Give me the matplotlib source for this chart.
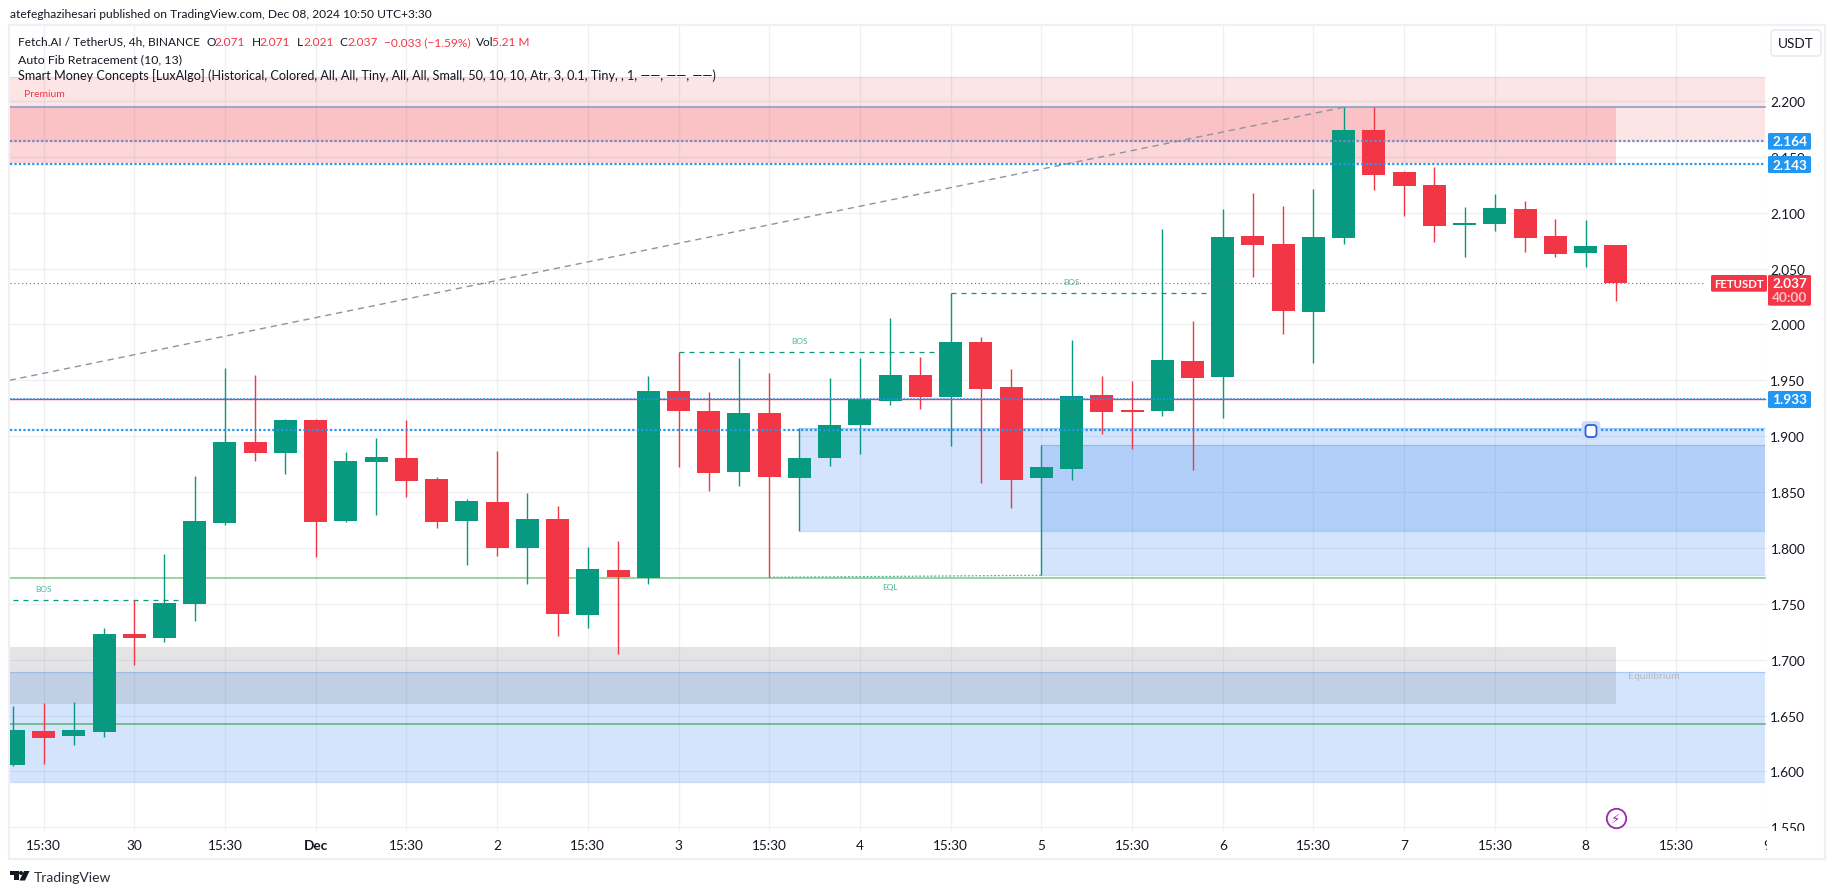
import matplotlib
matplotlib.use('Agg')
from matplotlib import pyplot as plt
from matplotlib import transforms
from matplotlib.patches import Rectangle, FancyBboxPatch, Polygon, Circle

# Candles, index 0 is Nov 30 03:30 and every bar is 4h.
bar_start = -4
opens = [1.6057, 1.6362, 1.6317, 1.6353, 1.7234, 1.7198, 1.7502, 1.8226, 1.895, 1.8852,
         1.9147, 1.8244, 1.8771, 1.8807, 1.8619, 1.8244, 1.8414, 1.8003, 1.8262, 1.7404,
         1.7806, 1.7732, 1.9404, 1.9225, 1.868, 1.9207, 1.8626, 1.8805, 1.91, 1.9315,
         1.9547, 1.935, 1.9842, 1.944, 1.8626, 1.8707, 1.9368, 1.9234, 1.9225, 1.9672,
         1.953, 2.0793, 2.0722, 2.0112, 2.0775, 2.1743, 2.1367, 2.125, 2.0892, 2.0901,
         2.1035, 2.0793, 2.0641, 2.071]
highs = [1.6585, 1.6612, 1.6621, 1.7287, 1.7532, 1.7949, 1.8646, 1.9612, 1.9549, 1.9156,
         1.9156, 1.8861, 1.8986, 1.9147, 1.8637, 1.8441, 1.887, 1.8494, 1.8378, 1.8012,
         1.8065, 1.9538, 1.975, 1.9395, 1.9699, 1.9565, 1.9073, 1.952, 1.9699, 2.006,
         1.9708, 2.028, 1.9887, 1.9601, 1.8921, 1.986, 1.9538, 1.9493, 2.0856, 2.0032,
         2.1036, 2.1179, 2.1062, 2.1214, 2.1949, 2.1949, 2.1376, 2.1412, 2.1053, 2.117,
         2.1107, 2.0946, 2.0937, 2.071]
lows = [1.6048, 1.6066, 1.6236, 1.6308, 1.6951, 1.7162, 1.735, 1.8208, 1.878, 1.8664,
        1.7922, 1.8235, 1.8298, 1.8458, 1.8181, 1.7851, 1.7931, 1.7681, 1.7216, 1.7287,
        1.7049, 1.7679, 1.8725, 1.851, 1.8555, 1.7738, 1.8155, 1.8734, 1.8841, 1.9279,
        1.9243, 1.8912, 1.8582, 1.8358, 1.7756, 1.8608, 1.902, 1.8885, 1.918, 1.8698,
        1.9163, 2.0426, 1.9915, 1.9655, 2.0722, 2.1205, 2.0972, 2.074, 2.0605, 2.0838,
        2.065, 2.0605, 2.0515, 2.021]
closes = [1.6371, 1.6299, 1.6371, 1.7234, 1.7198, 1.7511, 1.8244, 1.895, 1.8852, 1.9147,
          1.8235, 1.878, 1.8816, 1.8602, 1.8235, 1.8423, 1.8003, 1.8262, 1.7413, 1.7815,
          1.7743, 1.9404, 1.9225, 1.8671, 1.9207, 1.8635, 1.8805, 1.91, 1.9332, 1.9547,
          1.935, 1.9842, 1.9422, 1.8608, 1.8725, 1.9359, 1.9216, 1.9216, 1.9681, 1.952,
          2.0784, 2.0713, 2.0122, 2.0784, 2.1743, 2.134, 2.1241, 2.0883, 2.091, 2.1044,
          2.0775, 2.0632, 2.0703, 2.037]

# Axis labels.
price_ticks = [1.55, 1.60, 1.65, 1.70, 1.75, 1.80, 1.85, 1.90, 1.95, 2.00, 2.05, 2.10, 2.15, 2.20]
time_ticks = list(range(-3, 55, 3))
time_labels = ['15:30', '30', '15:30', 'Dec', '15:30', '2', '15:30', '3', '15:30', '4',
               '15:30', '5', '15:30', '6', '15:30', '7', '15:30', '8', '15:30', '9']

# Levels and zones.
last_price = 2.037
fib_top = 2.1943
fib_low = 1.9332
fib_mid_dots = [2.164, 2.1435, 1.9332, 1.9058]
premium_zone = (2.1638, 2.2213)
supply_zone = (2.1444, 2.1943)
demand_a = (1.8154, 1.9073)
demand_b = (1.776, 1.8921)
discount_zone = (1.5903, 1.6887)
equilibrium_zone = (1.6603, 1.7111)
green_levels = [1.7728, 1.6422]
bos_levels = [1.7531, 1.975, 2.0279]

GREEN = '#089981'
RED = '#f23645'
BLUE = '#2196f3'
TEXT = '#131722'
FONT = 'Lato'
W, H = 1835, 895

plt.rcParams['font.family'] = [FONT, 'DejaVu Sans']
fig = plt.figure(figsize=(W / 100, H / 100), dpi=100, facecolor='white')
ax = fig.add_axes([9.5 / W, 1 - 831.7 / H, (1767 - 9.5) / W, (831.7 - 27) / H])
x_min, x_max = -4.126, 53.93
ax.set_xlim(x_min, x_max)
ax.set_ylim(1.54696, 2.2670)

# Pixel coordinates for the page furniture, y counted from the top.
px = transforms.Affine2D().scale(1 / W, -1 / H).translate(0, 1) + fig.transFigure


def zone(x0, x1, levels, rgb, alpha, edge_alpha=0):
    ax.add_patch(Rectangle((x0, levels[0]), x1 - x0, levels[1] - levels[0],
                           facecolor=rgb + (alpha,), edgecolor='none', zorder=1))
    if edge_alpha:
        ax.hlines(levels, x0, x1, colors=[rgb + (edge_alpha,)], lw=0.9, zorder=1)


# Grid.
ax.set_axisbelow(True)
ax.grid(True, color='#eef0f3', lw=1)
for s in ax.spines.values():
    s.set_visible(False)

# Zones.
red_c = (242 / 255, 54 / 255, 69 / 255)
blue_c = (42 / 255, 123 / 255, 240 / 255)
gray_c = (120 / 255, 123 / 255, 134 / 255)
zone(x_min, x_max, premium_zone, red_c, 0.13, 0.12)
zone(x_min, 49, supply_zone, red_c, 0.2)
zone(22, x_max, demand_a, blue_c, 0.2, 0.25)
zone(30, x_max, demand_b, blue_c, 0.2, 0.25)
zone(x_min, x_max, discount_zone, blue_c, 0.2, 0.25)
zone(x_min, 49, equilibrium_zone, gray_c, 0.2)

# Levels under the candles.
ax.plot([x_min, x_max], [fib_top, fib_top], color='#7f9bc8', lw=1.1, zorder=2)
ax.plot([x_min, x_max], [fib_low, fib_low], color=RED, lw=1, zorder=2)
ax.plot([x_min, x_max], [green_levels[0]] * 2, color='#81c784', lw=1.1, zorder=2)
ax.plot([x_min, x_max], [green_levels[1]] * 2, color='#5cb270', lw=1.1, zorder=2)
ax.plot([x_min, 40], [1.950, fib_top], color='#8f939e', lw=1, ls=(0, (4.5, 3.5)), zorder=2)

# BOS and EQL lines.
dash = (0, (4, 4))
ax.plot([-4, 2], [bos_levels[0]] * 2, color=GREEN, lw=0.9, ls=dash, zorder=2)
ax.plot([18, 27], [bos_levels[1]] * 2, color=GREEN, lw=0.9, ls=dash, zorder=2)
ax.plot([27, 36], [bos_levels[2]] * 2, color=GREEN, lw=0.9, ls=dash, zorder=2)
ax.plot([21, 30], [1.7737, 1.7755], color='#4db6a0', lw=0.9, ls=(0, (1.5, 1.5)), zorder=2)
for xb, yb, s in [(-3.0, 1.7639, 'BOS'), (22.0, 1.9857, 'BOS'), (31.0, 2.0387, 'BOS'), (25, 1.7653, 'EQL')]:
    ax.text(xb, yb, s, color='#4db6a0', fontsize=6, ha='center', va='center', zorder=2)

# Candles.
xs = list(range(bar_start, bar_start + len(opens)))
colors = [GREEN if c >= o else RED for o, c in zip(opens, closes)]
ax.vlines(xs, lows, highs, colors=colors, lw=1.0, zorder=3)
ax.bar(xs, [abs(c - o) for o, c in zip(opens, closes)], bottom=[min(o, c) for o, c in zip(opens, closes)],
       width=0.76, color=colors, lw=0, zorder=4)

# Dotted levels over the candles.
dots = (0, (1, 1))
ax.plot([x_min, x_max], [fib_mid_dots[0]] * 2, color='#6b8cc8', lw=1.6, ls=dots, zorder=5)
ax.plot([x_min, x_max], [fib_mid_dots[1]] * 2, color=BLUE, lw=1.6, ls=dots, zorder=5)
ax.plot([x_min, x_max], [fib_mid_dots[2]] * 2, color=BLUE, lw=1.2, ls=dots, zorder=5)
ax.plot([x_min, x_max], [fib_mid_dots[3]] * 2, color=BLUE, lw=1.6, ls=dots, zorder=5)
ax.plot([x_min, 51.9], [last_price] * 2, color=RED, lw=0.8, ls=(0, (1, 2.5)), zorder=5)

# Zone captions.
ax.text(-3.65, 2.2065, 'Premium', color=RED, fontsize=7.5, ha='left', va='center', zorder=5)
ax.text(49.4, 1.6855, 'Equilibrium', color='#b5b9c2', fontsize=7.5, ha='left', va='center', zorder=5)

# Purple lightning marker and the small handle.
ax.plot([49], [1.558], marker='o', ms=14, mfc='white', mec='#9c27b0', mew=1.3, zorder=6, clip_on=False)
ax.text(49, 1.558, '\u26a1', color='#9c27b0', fontsize=9.5, ha='center', va='center', zorder=7,
        family='DejaVu Sans')
fig.add_artist(FancyBboxPatch((1581.5, 422), 19, 19, boxstyle='round,pad=0,rounding_size=4', transform=px,
                              fc='#cfdcfb', ec='none', zorder=8))
fig.add_artist(FancyBboxPatch((1585.5, 426), 11, 12, boxstyle='round,pad=0,rounding_size=3', transform=px,
                              fc='white', ec='#2e5fe0', lw=1.3, zorder=9))

# Axis labels.
ax.yaxis.tick_right()
ax.set_yticks(price_ticks)
ax.set_yticklabels(['%.3f' % p for p in price_ticks], fontsize=9.8, color=TEXT, ha='right')
ax.tick_params(axis='y', length=0, pad=27.5)
ax.set_xticks(time_ticks)
ax.set_xticklabels(time_labels, fontsize=9.8, color=TEXT)
ax.tick_params(axis='x', length=0, pad=6)
for lbl in ax.get_xticklabels():
    if lbl.get_text() == 'Dec':
        lbl.set_fontweight('bold')
    lbl.set_clip_on(True)
    lbl.set_clip_box(transforms.Bbox([[9, 0], [1767, H]]))
for lbl in ax.get_yticklabels():
    lbl.set_clip_on(True)
    lbl.set_clip_box(transforms.Bbox([[1767, H - 831.7], [W, H]]))

# Frame and header.
fig.add_artist(Rectangle((8.5, 26), 1816.5, 834, transform=px, fc='none', ec='#eef0f5', lw=1.6, zorder=0))
fig.text(10, 14.7, 'atefeghazihesari published on TradingView.com, Dec 08, 2024 10:50 UTC+3:30', transform=px,
         fontsize=8.65, color=TEXT, va='center')

# Legend lines.
legend_one = [(18, 'Fetch.AI / TetherUS, 4h, BINANCE', TEXT), (206.6, 'O', TEXT), (214.8, '2.071', RED),
              (252, 'H', TEXT), (259.7, '2.071', RED), (296.4, 'L', TEXT), (303, '2.021', RED),
              (339.3, 'C', TEXT), (347, '2.037', RED), (383.7, '\u22120.033 (\u22121.59%)', RED),
              (475.5, 'Vol', TEXT), (492.3, '5.21 M', RED)]
for xt, s, c in legend_one:
    fig.text(xt, 42.3, s, transform=px, fontsize=8.6, color=c, va='center', zorder=10)
fig.text(18, 59.3, 'Auto Fib Retracement (10, 13)', transform=px, fontsize=8.9, color=TEXT, va='center', zorder=10)
fig.text(18, 76, 'Smart Money Concepts [LuxAlgo] (Historical, Colored, All, All, Tiny, All, All, Small, 50, 10, 10, '
         'Atr, 3, 0.1, Tiny, , 1, \u2014\u2014, \u2014\u2014, \u2014\u2014)', transform=px, fontsize=9.13, color=TEXT,
         va='center', zorder=10)

# USDT button.
fig.add_artist(FancyBboxPatch((1771, 31), 50, 26, boxstyle='round,pad=0,rounding_size=4', transform=px,
                              fc='white', ec='#e8eaf2', lw=1.2, zorder=10))
fig.text(1796, 44, 'USDT', transform=px, fontsize=9.8, color=TEXT, ha='center', va='center', zorder=11)


def price_box(y0, y1, s, color=BLUE, x0=1768, x1=1811, size=9.8):
    fig.add_artist(FancyBboxPatch((x0, y0), x1 - x0, y1 - y0, boxstyle='round,pad=0,rounding_size=1.5', transform=px,
                                  fc=color, ec='none', zorder=10))
    fig.text((x0 + x1) / 2, (y0 + y1) / 2, s, transform=px, fontsize=size, color='white', fontweight='bold',
             ha='center', va='center', zorder=11)


price_box(134, 150.7, '2.164')
price_box(157, 174, '2.143')
price_box(392, 409, '1.933')
price_box(276, 292.7, 'FETUSDT', RED, 1711, 1767, size=8.2)
fig.add_artist(FancyBboxPatch((1768, 276), 43, 30.7, boxstyle='round,pad=0,rounding_size=1.5', transform=px,
                              fc=RED, ec='none', zorder=10))
fig.text(1789.5, 284.3, '2.037', transform=px, fontsize=9.8, color='white', fontweight='bold', ha='center',
         va='center', zorder=11)
fig.text(1789.5, 298.5, '40:00', transform=px, fontsize=9.8, color='#fbc0c6', fontweight='bold', ha='center',
         va='center', zorder=11)

# TradingView logo and name.
logo_color = '#131722'
fig.add_artist(Polygon([(10, 872), (19, 872), (19, 881.5), (14, 881.5), (14, 876.5), (10, 876.5)], transform=px,
                       fc=logo_color, ec='none'))
fig.add_artist(Circle((21, 874), 2, transform=px, fc=logo_color, ec='none'))
fig.add_artist(Polygon([(24, 872), (29.5, 872), (25, 881.5), (19.5, 881.5)], transform=px, fc=logo_color, ec='none'))
fig.text(33.5, 877.7, 'TradingView', transform=px, fontsize=10, color='#2a2e39', va='center')

fig.savefig('out.png', dpi=100)
